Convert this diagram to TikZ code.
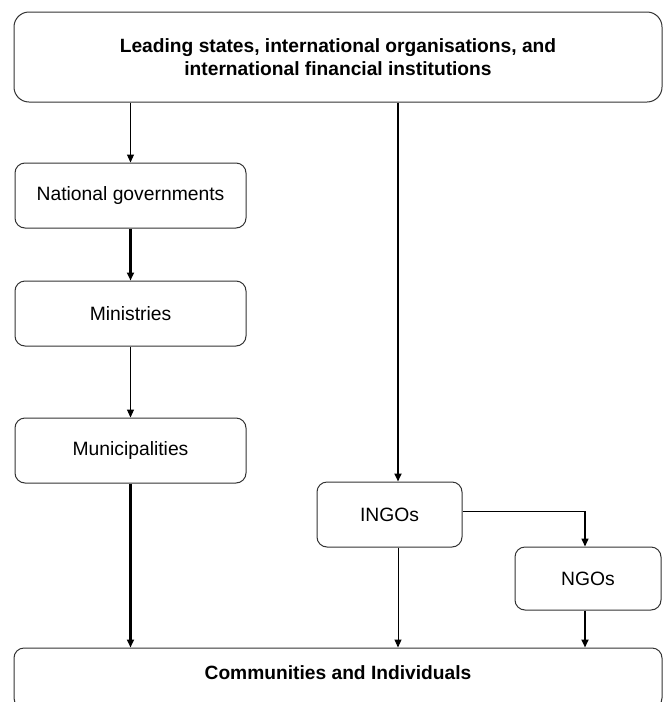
\documentclass[tikz,border=0pt]{standalone}
\usepackage{fontspec}
\setmainfont{Liberation Sans}
\usetikzlibrary{arrows.meta,calc}
\begin{document}
\begin{tikzpicture}[x=1pt,y=-1pt,
  box/.style={draw=black!80, line width=1pt, rounded corners=10pt, fill=white,
    align=center, inner sep=0pt, font=\fontsize{19.3}{24}\selectfont},
  conn/.style={-{Triangle[length=8pt,width=7pt]}, black},
]
\useasboundingbox (0,0) rectangle (663,702);
\clip (0,0) rectangle (663,702);
\fill[white] (0,0) rectangle (663,702);
\node[box, rounded corners=15pt, minimum width=648, minimum height=90, font=\bfseries\fontsize{19.2}{23.5}\selectfont]
  (top) at (338,57) {Leading states, international organisations, and\\international financial institutions};
\node[box, minimum width=231, minimum height=65] (nat) at (130.5,195.5) {National governments};
\node[box, minimum width=231, minimum height=65] (min) at (130.5,313.5) {Ministries};
\node[box, minimum width=231, minimum height=65] (mun) at (130.5,450.5) {Municipalities};
\node[box, minimum width=145, minimum height=65] (ingo) at (389.5,514.5) {INGOs};
\node[box, minimum width=146, minimum height=63] (ngo) at (588,578.5) {NGOs};
\node[box, minimum width=648, minimum height=60, text depth=10pt, font=\bfseries\fontsize{19.2}{24}\selectfont]
  (comm) at (338,678) {Communities and Individuals};
\coordinate (cx) at (398,0);
\coordinate (ncx) at (585,0);
\draw[conn, line width=1.2pt] (top.south -| nat.north) -- (nat.north);
\draw[conn, line width=3pt] (nat.south) -- (min.north);
\draw[conn, line width=1pt] (min.south) -- (mun.north);
\draw[conn, line width=3.6pt] (mun.south) -- (mun.south |- comm.north);
\draw[conn, line width=2.2pt] (top.south -| cx) -- (ingo.north -| cx);
\draw[conn, line width=1pt] (ingo.south -| cx) -- (comm.north -| cx);
\draw[conn, line width=1.5pt] ($(ingo.east)+(0,-3)$) -| (ngo.north -| ncx);
\draw[conn, line width=2.5pt] (ngo.south -| ncx) -- (comm.north -| ncx);
\end{tikzpicture}
\end{document}
